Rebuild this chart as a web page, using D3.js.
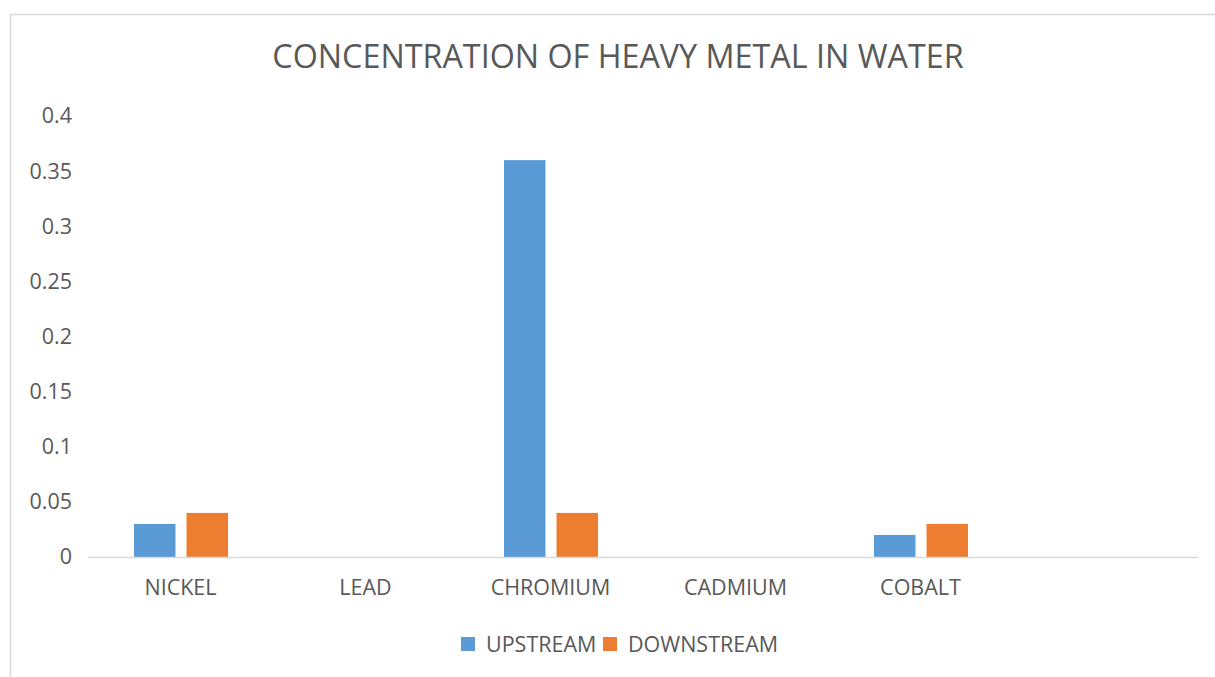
<!DOCTYPE html>
<html>
<head>
<meta charset="utf-8">
<script src="https://cdn.jsdelivr.net/npm/d3@7"></script>
<style>
  html, body { margin: 0; padding: 0; background: #fff; }
  svg { display: block; font-family: "Open Sans", "Noto Sans", sans-serif; }
</style>
</head>
<body>
<svg id="chart" width="1215" height="677"></svg>
<script>
// Heavy metal concentrations measured upstream and downstream
const categories = ["NICKEL", "LEAD", "CHROMIUM", "CADMIUM", "COBALT", ""];
const seriesNames = ["UPSTREAM", "DOWNSTREAM"];
const upstream = [0.03, 0, 0.36, 0, 0.02, null];
const downstream = [0.04, 0, 0.04, 0, 0.03, null];
const yTicks = [0, 0.05, 0.1, 0.15, 0.2, 0.25, 0.3, 0.35, 0.4];
const colors = ["#5b9bd5", "#ed7d31"];

const svg = d3.select("#chart");
const W = 1215, H = 677;
const textColor = "#595959";
const labelSize = 21.5;

// chart frame
svg.append("rect")
  .attr("x", 10.5).attr("y", 14.5)
  .attr("width", W + 20).attr("height", H + 20)
  .attr("fill", "#fff").attr("stroke", "#d9d9d9").attr("stroke-width", 1.5);

// title
svg.append("text")
  .attr("x", 618).attr("y", 68)
  .attr("text-anchor", "middle")
  .attr("fill", textColor)
  .attr("font-size", 32.3)
  .text("CONCENTRATION OF HEAVY METAL IN WATER");

const plot = { left: 88, right: 1198, top: 116, bottom: 557 };

const x = d3.scaleBand().domain(categories.map((c, i) => i))
  .range([plot.left, plot.right]).paddingInner(0).paddingOuter(0);

const xInner = d3.scaleBand().domain(seriesNames)
  .range([46, 140]).paddingInner(0.21);

const y = d3.scaleLinear().domain([0, 0.4]).range([plot.bottom, plot.top]);

// y axis labels
const yAxis = d3.axisLeft(y).tickValues(yTicks).tickSize(0).tickPadding(0)
  .tickFormat(d => d3.format("~g")(d));
const gy = svg.append("g").attr("transform", `translate(72,0)`).call(yAxis);
gy.select(".domain").remove();
gy.selectAll("text").attr("fill", textColor).attr("font-size", labelSize)
  .attr("font-family", "'Open Sans', sans-serif");

// bars
const data = categories.map((c, i) => ({ i, values: [upstream[i], downstream[i]] }));
const groups = svg.append("g").selectAll("g").data(data).join("g")
  .attr("transform", d => `translate(${x(d.i)},0)`);
groups.selectAll("rect")
  .data(d => d.values.map((v, k) => ({ v, k })).filter(e => e.v != null && e.v > 0))
  .join("rect")
  .attr("x", e => xInner(seriesNames[e.k]))
  .attr("width", xInner.bandwidth())
  .attr("y", e => y(e.v))
  .attr("height", e => y(0) - y(e.v))
  .attr("fill", e => colors[e.k]);

// baseline
svg.append("line")
  .attr("x1", plot.left).attr("x2", plot.right)
  .attr("y1", y(0) + 0.5).attr("y2", y(0) + 0.5)
  .attr("stroke", "#d9d9d9").attr("stroke-width", 1.5);

// category labels
const xAxis = d3.axisBottom(x).tickSize(0).tickPadding(0).tickFormat(i => categories[i]);
const gx = svg.append("g").attr("transform", `translate(0,${plot.bottom + 23})`).call(xAxis);
gx.select(".domain").remove();
gx.selectAll("text").attr("fill", textColor).attr("font-size", labelSize)
  .attr("font-family", "'Open Sans', sans-serif");

// legend
const legend = svg.append("g").attr("transform", "translate(461,644)");
const legendX = [0, 142];
seriesNames.forEach((name, k) => {
  const g = legend.append("g").attr("transform", `translate(${legendX[k]},0)`);
  g.append("rect").attr("x", 0).attr("y", -7).attr("width", 14).attr("height", 14).attr("fill", colors[k]);
  g.append("text").attr("x", 25).attr("y", 0).attr("dy", "0.35em")
    .attr("fill", textColor).attr("font-size", labelSize).text(name);
});
</script>
</body>
</html>
